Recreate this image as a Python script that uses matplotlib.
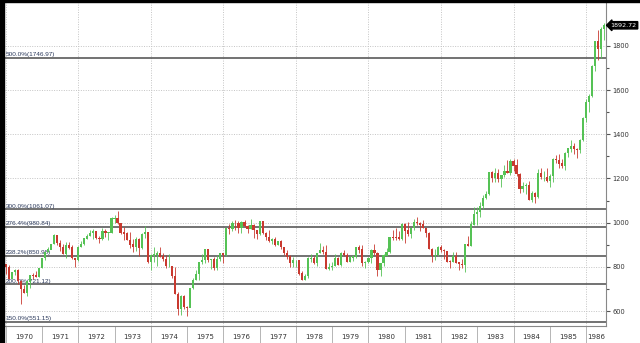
import numpy as np
import pandas as pd
import matplotlib
matplotlib.use("Agg")
import matplotlib.pyplot as plt
from matplotlib.patches import Rectangle

# ==============================================================================
# datos mensuales (Nov 1969 - Jun 1986)
# ==============================================================================
inicio = "1969-11-30"

apertura = [
    856.0, 812.3,
    800.4, 744.1, 777.6, 785.6, 736.1, 700.4, 683.5, 734.1, 764.6, 760.7, 755.6, 794.1,
    838.9, 868.5, 878.8, 904.4, 941.8, 907.8, 891.1, 858.4, 898.1, 887.2, 839.0, 831.3,
    890.2, 902.2, 928.1, 940.7, 954.2, 960.7, 929.0, 924.7, 963.7, 953.3, 955.5, 1018.2,
    1020.0, 999.0, 955.1, 951.0, 921.4, 901.4, 891.7, 926.4, 887.6, 947.1, 956.6, 822.3,
    850.9, 855.6, 860.5, 846.7, 836.8, 802.2, 802.4, 757.4, 678.6, 607.9, 665.5, 618.7,
    616.2, 703.7, 739.1, 768.2, 821.3, 832.3, 879.0, 831.5, 835.3, 793.9, 836.0, 860.7,
    852.4, 975.3, 972.6, 999.5, 996.9, 975.2, 1002.8, 984.6, 973.7, 990.2, 964.9, 947.2,
    1004.7, 954.4, 936.4, 919.1, 926.9, 898.7, 916.3, 890.1, 861.5, 847.1, 818.4, 829.7,
    831.2, 769.9, 742.1, 757.4, 837.3, 840.6, 819.0, 862.3, 876.8, 865.8, 792.5, 799.0,
    805.0, 839.2, 808.8, 862.2, 854.9, 822.3, 842.0, 846.4, 887.6, 878.6, 815.7, 822.4,
    838.7, 875.9, 863.1, 785.8, 817.1, 850.9, 867.9, 935.3, 932.6, 932.4, 924.5, 993.3,
    964.0, 947.3, 974.6, 1003.9, 997.8, 991.8, 976.9, 952.3, 881.5, 850.0, 852.6, 889.0,
    875.0, 871.1, 824.4, 822.8, 848.4, 819.5, 811.9, 808.6, 901.3, 896.3, 991.7, 1039.3,
    1046.5, 1075.7, 1112.6, 1130.0, 1226.2, 1200.0, 1222.0, 1199.2, 1215.3, 1233.1, 1225.2, 1276.0,
    1258.6, 1220.6, 1154.6, 1164.9, 1170.8, 1104.9, 1132.4, 1115.3, 1224.4, 1206.7, 1207.4, 1188.9,
    1211.6, 1286.8, 1284.0, 1266.8, 1258.1, 1315.4, 1335.5, 1347.5, 1334.0, 1328.6, 1374.3, 1472.1,
    1546.7, 1571.0, 1709.1, 1818.6, 1784.0, 1876.7,
]
maximo = [
    863, 815,
    811, 778, 792, 792, 740, 720, 735, 765, 774, 783, 794, 842,
    869, 891, 904, 950, 942, 924, 904, 912, 911, 901, 842, 893,
    917, 928, 950, 968, 971, 962, 942, 974, 971, 956, 1025, 1036,
    1051, 999, 979, 959, 956, 927, 937, 930, 953, 987, 959, 860,
    891, 870, 891, 861, 856, 859, 806, 798, 688, 674, 674, 622,
    704, 750, 786, 821, 858, 879, 882, 838, 844, 855, 864, 862,
    975, 995, 1009, 1011, 1007, 1007, 1012, 990, 1015, 994, 966, 1005,
    1005, 960, 968, 932, 935, 918, 923, 892, 876, 852, 846, 833,
    833, 783, 766, 843, 859, 849, 864, 907, 895, 901, 816, 823,
    857, 847, 866, 878, 862, 849, 852, 888, 898, 900, 828, 845,
    882, 903, 868, 818, 860, 884, 936, 967, 974, 963, 1000, 1000,
    1005, 975, 1015, 1024, 1002, 1012, 977, 960, 886, 879, 893, 899,
    882, 872, 832, 869, 869, 824, 838, 901, 939, 1007, 1070, 1070,
    1092, 1125, 1145, 1226, 1232, 1249, 1244, 1217, 1260, 1285, 1287, 1287,
    1287, 1226, 1185, 1180, 1187, 1145, 1140, 1245, 1246, 1232, 1248, 1220,
    1293, 1307, 1309, 1290, 1320, 1340, 1372, 1359, 1339, 1380, 1480, 1560,
    1583, 1715, 1822, 1871, 1884, 1903,
]
minimo = [
    807, 769,
    744, 746, 763, 724, 631, 682, 669, 707, 747, 753, 754, 794,
    830, 868, 879, 903, 900, 873, 858, 839, 883, 837, 798, 829,
    889, 898, 928, 939, 925, 926, 910, 922, 936, 921, 955, 1000,
    992, 947, 922, 921, 886, 869, 870, 851, 880, 930, 816, 788,
    824, 803, 844, 827, 795, 802, 752, 678, 584, 584, 608, 577,
    632, 702, 739, 743, 812, 818, 824, 791, 784, 784, 826, 819,
    849, 947, 964, 969, 955, 953, 979, 953, 970, 931, 925, 946,
    951, 924, 914, 903, 894, 898, 882, 854, 834, 801, 800, 800,
    764, 742, 742, 751, 823, 812, 805, 862, 857, 792, 785, 787,
    805, 807, 806, 848, 822, 821, 826, 842, 863, 806, 797, 818,
    820, 854, 759, 759, 806, 848, 865, 921, 921, 922, 920, 908,
    938, 931, 965, 990, 963, 975, 935, 881, 824, 830, 850, 868,
    838, 824, 795, 822, 819, 788, 796, 776, 895, 893, 988, 990,
    1027, 1064, 1107, 1124, 1185, 1185, 1183, 1163, 1207, 1223, 1215, 1236,
    1213, 1134, 1139, 1131, 1102, 1094, 1087, 1114, 1197, 1187, 1184, 1163,
    1185, 1270, 1247, 1247, 1240, 1299, 1319, 1310, 1291, 1313, 1371, 1456,
    1502, 1569, 1687, 1736, 1744, 1826,
]
cierre = [
    812.3, 800.4,
    744.1, 777.6, 785.6, 736.1, 700.4, 683.5, 734.1, 764.6, 760.7, 755.6, 794.1, 838.9,
    868.5, 878.8, 904.4, 941.8, 907.8, 891.1, 858.4, 898.1, 887.2, 839.0, 831.3, 890.2,
    902.2, 928.1, 940.7, 954.2, 960.7, 929.0, 924.7, 963.7, 953.3, 955.5, 1018.2, 1020.0,
    999.0, 955.1, 951.0, 921.4, 901.4, 891.7, 926.4, 887.6, 947.1, 956.6, 822.3, 850.9,
    855.6, 860.5, 846.7, 836.8, 802.2, 802.4, 757.4, 678.6, 607.9, 665.5, 618.7, 616.2,
    703.7, 739.1, 768.2, 821.3, 832.3, 879.0, 831.5, 835.3, 793.9, 836.0, 860.7, 852.4,
    975.3, 972.6, 999.5, 996.9, 975.2, 1002.8, 984.6, 973.7, 990.2, 964.9, 947.2, 1004.7,
    954.4, 936.4, 919.1, 926.9, 898.7, 916.3, 890.1, 861.5, 847.1, 818.4, 829.7, 831.2,
    769.9, 742.1, 757.4, 837.3, 840.6, 819.0, 862.3, 876.8, 865.8, 792.5, 799.0, 805.0,
    839.2, 808.8, 862.2, 854.9, 822.3, 842.0, 846.4, 887.6, 878.6, 815.7, 822.4, 838.7,
    875.9, 863.1, 785.8, 817.1, 850.9, 867.9, 935.3, 932.6, 932.4, 924.5, 993.3, 964.0,
    947.3, 974.6, 1003.9, 997.8, 991.8, 976.9, 952.3, 881.5, 850.0, 852.6, 889.0, 875.0,
    871.1, 824.4, 822.8, 848.4, 819.5, 811.9, 808.6, 901.3, 896.3, 991.7, 1039.3, 1046.5,
    1075.7, 1112.6, 1130.0, 1226.2, 1200.0, 1222.0, 1199.2, 1215.3, 1233.1, 1225.2, 1276.0, 1258.6,
    1220.6, 1154.6, 1164.9, 1170.8, 1104.9, 1132.4, 1115.3, 1224.4, 1206.7, 1207.4, 1188.9, 1211.6,
    1286.8, 1284.0, 1266.8, 1258.1, 1315.4, 1335.5, 1347.5, 1334.0, 1328.6, 1374.3, 1472.1, 1546.7,
    1571.0, 1709.1, 1818.6, 1784.0, 1876.7, 1892.72,
]

# niveles de Fibonacci
fib_pct = ["150.0%", "200.0%", "238.2%", "276.4%", "300.0%", "500.0%"]
fib_val = [551.15, 721.12, 850.98, 980.84, 1061.07, 1746.97]

anios = list(range(1970, 1987))
ultimo = "1892.72"

# ==============================================================================
# figura
# ==============================================================================
W, H = 640, 343
fig = plt.figure(figsize=(W / 100, H / 100), dpi=100)
fig.patch.set_facecolor("white")
ax = fig.add_axes([5 / W, 1 - 326 / H, 601 / W, 324 / H])

fechas = pd.date_range(inicio, periods=len(cierre), freq="ME")
x = np.array(fechas.year + fechas.month / 12.0)
o = np.array(apertura); h = np.array(maximo); l = np.array(minimo); c = np.array(cierre)
sube = c >= o
col = np.where(sube, "#55c255", "#c9392f")

xmin, xmax = 1969.98, 1986.55
ax.set_xlim(xmin, xmax)
ax.set_ylim(533, 1998)

# rejilla punteada
for v in range(600, 2000, 200):
    ax.axhline(v, color="#c4c4c4", lw=0.7, ls=(0, (1, 1.5)), zorder=0)
for a in anios:
    if a % 2 == 0:
        ax.axvline(a, color="#c4c4c4", lw=0.7, ls=(0, (1, 1.5)), zorder=0)

# lineas fibo
for p, v in zip(fib_pct, fib_val):
    ax.axhline(v, color="#5a5a5a", lw=1.2, zorder=1)
    ax.text(xmin + 0.02, v + 3, f"{p}({v:.2f})", fontsize=4.6, color="#2c3a5c",
            family="Liberation Sans", va="bottom", ha="left", zorder=2)

# velas
ax.vlines(x, l, h, colors=col, lw=0.6, zorder=3)
ax.bar(x, np.abs(c - o) + 1, bottom=np.minimum(o, c), width=0.06, color=col,
       linewidth=0, zorder=4)

# ejes
for s in ["left", "top"]:
    ax.spines[s].set_visible(False)
ax.spines["right"].set_color("#888888")
ax.spines["bottom"].set_color("#888888")
ax.spines["right"].set_linewidth(0.8)
ax.spines["bottom"].set_linewidth(0.8)

ax.yaxis.tick_right()
ax.set_yticks(range(600, 2000, 200))
ax.set_yticks(range(700, 2000, 100), minor=True)
ax.tick_params(axis="y", which="major", length=3, width=0.8, color="#555555",
               labelsize=4.8, labelcolor="#333333", pad=1.5)
ax.tick_params(axis="y", which="minor", length=2, width=0.8, color="#555555")
ax.yaxis.set_tick_params(which="both", direction="out")

ax.set_xticks(anios)
ax.set_xticklabels([])
ax.tick_params(axis="x", which="major", length=17, width=0.6, color="#aaaaaa")
centros = [a + 0.5 for a in anios[:-1]] + [(anios[-1] + xmax) / 2]
ax.set_xticks(centros, minor=True)
ax.set_xticklabels([str(a) for a in anios], minor=True)
ax.tick_params(axis="x", which="minor", length=0, labelsize=5, labelcolor="#333333", pad=6)

# etiqueta del ultimo precio
ax.annotate(ultimo, xy=(1, c[-1]), xycoords=("axes fraction", "data"),
            xytext=(3.2, 0), textcoords="offset points", fontsize=4.6, color="white",
            va="center", ha="left",
            bbox=dict(boxstyle="larrow,pad=0.18", fc="black", ec="black"),
            annotation_clip=False)

# bordes negros de la captura
fig.patches.append(Rectangle((0, 0), 4 / W, 1, transform=fig.transFigure,
                             color="black", zorder=10))
fig.patches.append(Rectangle((0, 1 - 2 / H), 1, 2 / H, transform=fig.transFigure,
                             color="black", zorder=10))

fig.savefig("out.png", dpi=100)
